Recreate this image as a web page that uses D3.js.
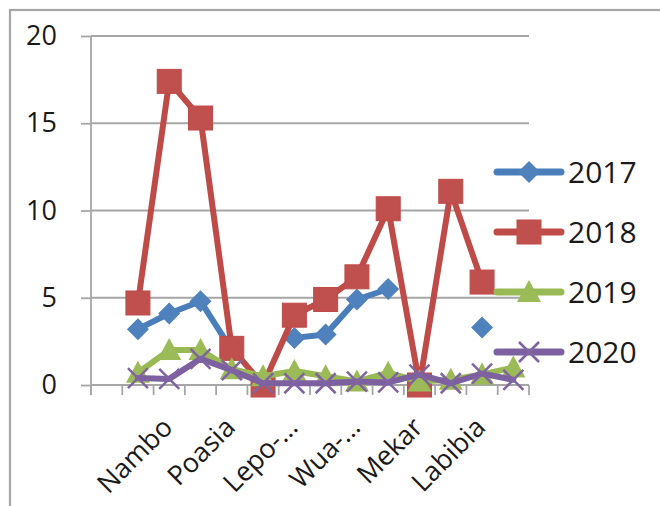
<!DOCTYPE html>
<html><head><meta charset="utf-8">
<script src="https://cdn.jsdelivr.net/npm/d3@7"></script>
<style>
html,body{margin:0;padding:0;background:#fff;}
svg{display:block;font-family:"Open Sans","Liberation Sans",sans-serif;}
</style></head>
<body><svg id="c" width="660" height="506"></svg>
<script>
// ---- data ----
const categories = ["", "", "Nambo", "", "Poasia", "", "Lepo-…", "", "Wua-…", "", "Mekar", "", "Labibia", ""];
const seriesNames = ["2017", "2018", "2019", "2020"];
const v2017 = [null, 3.2, 4.1, 4.8, 2.0, null, 2.7, 2.9, 4.9, 5.5, null, null, 3.3, null];
const v2018 = [null, 4.7, 17.4, 15.3, 2.1, 0, 4.0, 4.9, 6.2, 10.1, 0, 11.1, 5.9, null];
const v2019 = [null, 0.7, 2.0, 2.0, 0.9, 0.5, 0.8, 0.5, 0.2, 0.7, 0.2, 0.3, 0.6, 1.0];
const v2020 = [null, 0.4, 0.35, 1.5, 0.85, 0.1, 0.1, 0.1, 0.2, 0.15, 0.6, 0.1, 0.65, 0.3];
const yTicks = [0, 5, 10, 15, 20];

const lineColors = ["#4A7EBB", "#BE4B48", "#98B954", "#7D60A0"];
const markerColors = ["#4F81BD", "#C0504D", "#9BBB59", "#8064A2"];
const markerTypes = ["diamond", "square", "triangle", "x"];
const values = [v2017, v2018, v2019, v2020];

const svg = d3.select("#c");
const grid = "#a6a6a6";

// outer frame
svg.append("rect").attr("x", 10).attr("y", 10).attr("width", 700).attr("height", 600)
  .attr("fill", "none").attr("stroke", grid).attr("stroke-width", 2.2);

const x = d3.scaleBand().domain(d3.range(categories.length)).range([91, 529]).padding(0);
const y = d3.scaleLinear().domain([0, 20]).range([385, 36]);

// gridlines
svg.append("g").selectAll("line").data(yTicks.filter(t => t > 0)).join("line")
  .attr("x1", 91).attr("x2", 529).attr("y1", d => y(d)).attr("y2", d => y(d))
  .attr("stroke", grid).attr("stroke-width", 1.8);

// y axis
const ya = svg.append("g").attr("transform", "translate(91,0)")
  .call(d3.axisLeft(y).tickValues(yTicks).tickSize(10).tickPadding(24).tickFormat(d3.format("d")));
ya.select(".domain").remove();
ya.selectAll(".tick line").attr("stroke", grid).attr("stroke-width", 1.8);
ya.selectAll(".tick text").attr("font-size", 27).attr("fill", "#1a1a1a")
  .attr("font-family", "'Open Sans','Liberation Sans',sans-serif");
svg.append("line").attr("x1", 91).attr("x2", 91).attr("y1", 36).attr("y2", 395)
  .attr("stroke", grid).attr("stroke-width", 1.8);

// x axis
svg.append("line").attr("x1", 91).attr("x2", 529).attr("y1", y(0)).attr("y2", y(0))
  .attr("stroke", grid).attr("stroke-width", 1.8);
const bounds = d3.range(categories.length + 1).map(i => i < categories.length ? x(i) : x(categories.length - 1) + x.bandwidth());
svg.append("g").selectAll("line").data(bounds).join("line")
  .attr("x1", d => d).attr("x2", d => d).attr("y1", y(0)).attr("y2", y(0) + 10)
  .attr("stroke", grid).attr("stroke-width", 1.8);

// x labels
svg.append("g").selectAll("text").data(categories.map((c, i) => ({c, i})).filter(d => d.c !== "")).join("text")
  .attr("transform", d => `translate(${x(d.i) + x.bandwidth() / 2 + 5},${y(0) + 44}) rotate(-45)`)
  .attr("text-anchor", "end").attr("font-size", 27).attr("fill", "#1a1a1a")
  .text(d => d.c);

// marker drawing
function drawMarker(g, type, color, stroke) {
  if (type === "diamond") {
    g.append("path").attr("d", "M0,-11L11,0L0,11L-11,0Z").attr("fill", color);
  } else if (type === "square") {
    g.append("rect").attr("x", -12).attr("y", -12).attr("width", 24).attr("height", 24)
      .attr("fill", color).attr("stroke", stroke).attr("stroke-width", 1);
  } else if (type === "triangle") {
    g.append("path").attr("d", "M0,-12L12,10L-12,10Z").attr("fill", color);
  } else {
    g.append("path").attr("d", "M-10,-10L10,10M-10,10L10,-10").attr("stroke", color)
      .attr("stroke-width", 2.5).attr("fill", "none");
  }
}

const line = d3.line().defined(d => d.v !== null)
  .x(d => x(d.i) + x.bandwidth() / 2).y(d => y(d.v));

values.forEach((vals, si) => {
  const pts = vals.map((v, i) => ({v, i}));
  const g = svg.append("g");
  g.append("path").datum(pts).attr("d", line).attr("fill", "none")
    .attr("stroke", lineColors[si]).attr("stroke-width", 6)
    .attr("stroke-linejoin", "round").attr("stroke-linecap", "round");
  pts.filter(d => d.v !== null).forEach(d => {
    const m = g.append("g").attr("transform", `translate(${x(d.i) + x.bandwidth() / 2},${y(d.v)})`);
    drawMarker(m, markerTypes[si], markerColors[si], lineColors[si]);
  });
});

// legend
const leg = svg.append("g");
seriesNames.forEach((name, si) => {
  const ly = 172 + si * 60;
  leg.append("line").attr("x1", 497).attr("x2", 561).attr("y1", ly).attr("y2", ly)
    .attr("stroke", lineColors[si]).attr("stroke-width", 7).attr("stroke-linecap", "round");
  const m = leg.append("g").attr("transform", `translate(529,${ly})`);
  drawMarker(m, markerTypes[si], markerColors[si], lineColors[si]);
  leg.append("text").attr("x", 568).attr("y", ly).attr("dy", "0.36em")
    .attr("font-size", 30).attr("fill", "#1a1a1a").text(name);
});
</script></body></html>
